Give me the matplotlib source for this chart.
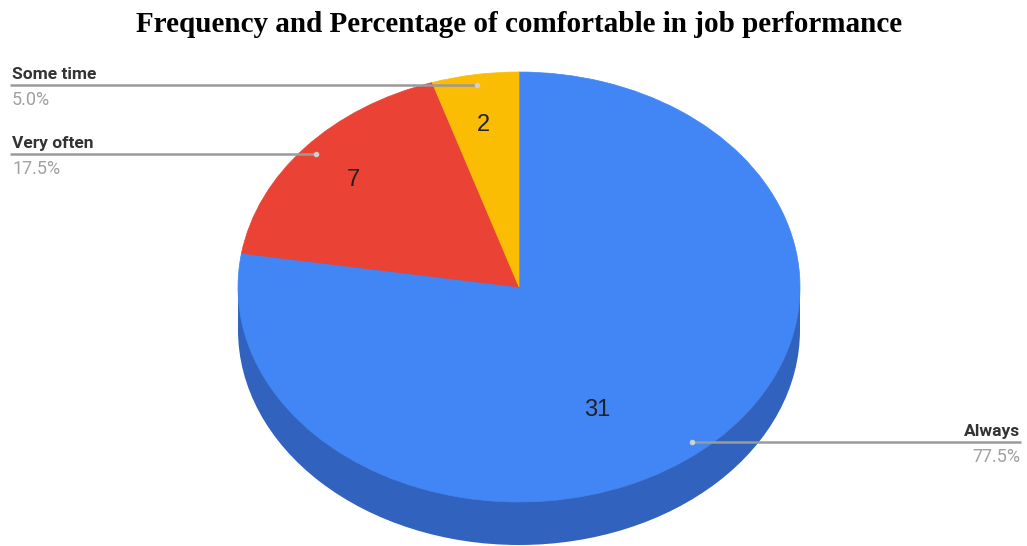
import numpy as np
import matplotlib.pyplot as plt
from matplotlib.patches import Wedge, Ellipse, Rectangle
from matplotlib.transforms import Affine2D

# slices, clockwise from 12 o'clock
categories = ["Always", "Very often", "Some time"]
counts = [31, 7, 2]
percents = ["77.5%", "17.5%", "5.0%"]
colors = ["#4285F4", "#EA4335", "#FBBC04"]
side_color = "#3163BE"

W, H = 1027, 546
CX, CY = 519, H - 287      # centre of the top face (y measured upward)
RX, RY = 281, 215          # tilted ellipse radii
DEPTH = 43

# where the count sits inside each slice, in unit-circle coordinates
COUNT_XY = [(0.28, -0.57), (-0.59, 0.50), (-0.125, 0.755)]

fig = plt.figure(figsize=(W / 100, H / 100), dpi=100)
ax = fig.add_axes([0, 0, 1, 1])
ax.set_xlim(0, W)
ax.set_ylim(0, H)
ax.axis("off")

# side of the disc: only the front half shows, and it is all "Always"
ax.add_patch(Ellipse((CX, CY - DEPTH), 2 * RX, 2 * RY, color=side_color, lw=0))
ax.add_patch(Rectangle((CX - RX, CY - DEPTH), 2 * RX, DEPTH, color=side_color, lw=0))

unit = Affine2D().scale(RX, RY).translate(CX, CY) + ax.transData

total = sum(counts)
start = 90.0
for name, n, pct, col, (lx, ly) in zip(categories, counts, percents, colors, COUNT_XY):
    sweep = 360.0 * n / total
    t1, t2 = start - sweep, start
    ax.add_patch(Wedge((0, 0), 1, t1, t2, facecolor=col, edgecolor=col, lw=0.5,
                       transform=unit))
    start = t1

    ax.text(CX + RX * lx, CY + RY * ly, str(n), fontsize=17, color="#202124",
            family="Liberation Sans", ha="center", va="center")

    # leader line from the slice edge out to the side label
    mid = np.radians((t1 + t2) / 2)
    px = CX + 0.95 * RX * np.cos(mid)
    py = CY + 0.95 * RY * np.sin(mid)
    left = np.cos(mid) < 0
    x_end = 10 if left else 1021
    ax.plot([px, x_end], [py, py], color="#9a9a9a", lw=1.8, solid_capstyle="butt")
    ax.plot(px, py, "o", ms=4, color="#d0d0d0", mec="none")
    ha = "left" if left else "right"
    tx = 12 if left else 1020
    ax.text(tx, py + 6, name, fontsize=12.5, weight="bold", family="Roboto",
            color="#333333", ha=ha, va="baseline")
    ax.text(tx, py - 6, pct, fontsize=13, family="Roboto", color="#a0a0a0",
            ha=ha, va="top")

fig.text(CX / W, 1 - 25 / H, "Frequency and Percentage of comfortable in job performance",
         fontsize=21, weight="bold", family="Liberation Serif",
         ha="center", va="center")

fig.savefig("out.png", dpi=100)
